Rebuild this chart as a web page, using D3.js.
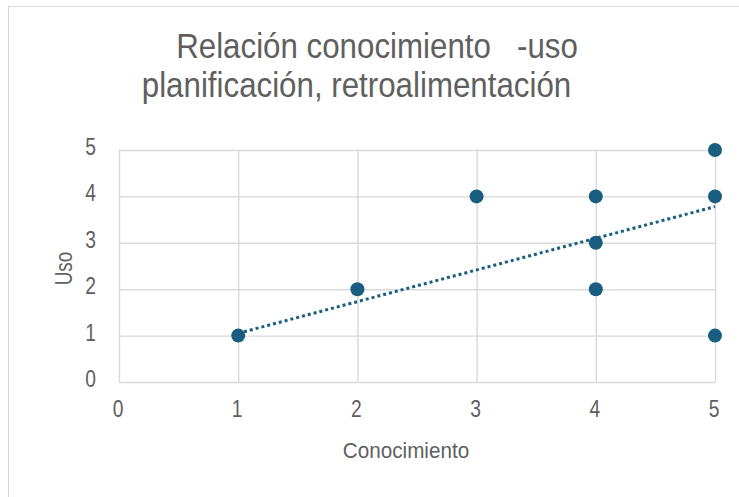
<!DOCTYPE html>
<html><head><meta charset="utf-8">
<script src="https://cdn.jsdelivr.net/npm/d3@7"></script>
<style>
html,body{margin:0;padding:0;background:#fff;}
text{font-family:"Liberation Sans","Arial",sans-serif;fill:#5f5f5f;}
</style></head>
<body><svg id="c" width="739" height="497"></svg>
<script>
const titleLines = ["Relación conocimiento   -uso", "planificación, retroalimentación"];
const xValues = [1, 2, 3, 4, 4, 4, 5, 5, 5];
const yValues = [1, 2, 4, 4, 3, 2, 5, 4, 1];
const trendX = [1, 5];
const trendY = [1.05, 3.78];
const xTicks = [0, 1, 2, 3, 4, 5];
const yTicks = [0, 1, 2, 3, 4, 5];
const xTitle = "Conocimiento";
const yTitle = "Uso";

const svg = d3.select("#c");
svg.append("rect").attr("x",8.5).attr("y",6.5).attr("width",760).attr("height",520)
  .attr("fill","#fff").attr("stroke","#d9d9d9");

const L=119, R=715, T=150, B=382;
const x = d3.scaleLinear().domain([0,5]).range([L,R]);
const y = d3.scaleLinear().domain([0,5]).range([B,T]);

const gx = svg.append("g").attr("transform",`translate(0,${B})`)
  .call(d3.axisBottom(x).tickValues(xTicks).tickSize(-(B-T)).tickFormat(""));
gx.select(".domain").remove();
gx.selectAll("line").attr("stroke","#d9d9d9").attr("stroke-width",1.4);
const gy = svg.append("g").attr("transform",`translate(${L},0)`)
  .call(d3.axisLeft(y).tickValues(yTicks).tickSize(-(R-L)).tickFormat(""));
gy.select(".domain").remove();
gy.selectAll("line").attr("stroke","#d9d9d9").attr("stroke-width",1.4);

function ctext(px, py, s, size, sx, anchor, rot){
  return svg.append("text")
    .attr("transform",`translate(${px},${py})${rot?` rotate(${rot})`:""} scale(${sx},1)`)
    .attr("text-anchor",anchor||"middle").style("font-size",size+"px")
    .attr("xml:space","preserve").text(s);
}
xTicks.forEach(d=>ctext(x(d)-1, 417, d3.format("d")(d), 23.5, 0.82, "middle"));
yTicks.forEach(d=>ctext(96, y(d)+5, d3.format("d")(d), 23.5, 0.82, "end"));

const pts = xValues.map((v,i)=>[v,yValues[i]]);
svg.selectAll(".pt").data(pts).join("circle")
  .attr("cx",d=>x(d[0])).attr("cy",d=>y(d[1])).attr("r",7).attr("fill","#195d80");

const trend = trendX.map((v,i)=>[v,trendY[i]]);
svg.append("path").datum(trend)
  .attr("d",d3.line().x(d=>x(d[0])).y(d=>y(d[1])))
  .attr("stroke","#195d80").attr("stroke-width",3).attr("stroke-dasharray","3,3").attr("fill","none");

titleLines.forEach((s,i)=>ctext(i===0 ? 377 : 356.5, 58+i*39, s, 35, 0.894, "middle"));

ctext(406, 458, xTitle, 22, 0.94, "middle");
ctext(72, 268.5, yTitle, 23, 0.82, "middle", -90);
</script></body></html>
